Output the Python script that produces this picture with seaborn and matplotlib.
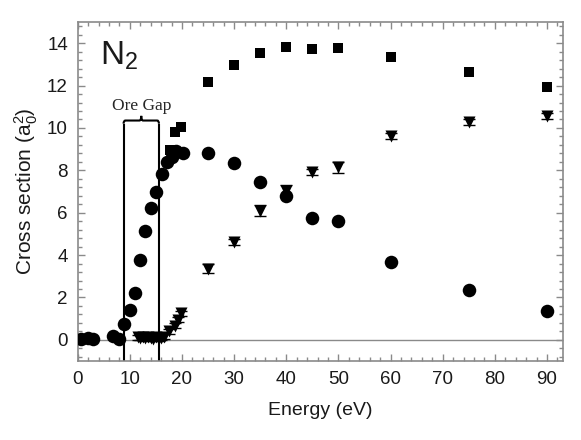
import numpy as np
import pandas as pd
import matplotlib
matplotlib.use("Agg")
import matplotlib.pyplot as plt
from matplotlib.path import Path
from matplotlib.patches import PathPatch
from matplotlib.ticker import MultipleLocator
import seaborn as sns

# === DONNÉES ===
e_circ = [0.7, 2.0, 2.9, 6.8, 7.9, 8.8, 10.0, 10.9, 11.9, 13.0, 14.0, 15.0, 16.1,
          17.1, 18.0, 18.9, 20.2, 25, 30, 35, 40, 45, 50, 60, 75, 90]
s_circ = [0.05, 0.08, 0.05, 0.16, 0.03, 0.74, 1.41, 2.22, 3.79, 5.12, 6.23, 6.96, 7.82,
          8.37, 8.62, 8.92, 8.8, 8.8, 8.33, 7.43, 6.81, 5.76, 5.63, 3.68, 2.35, 1.36]

e_tri = [11.5, 12.0, 12.5, 13.0, 13.5, 14.0, 14.5, 15.0, 15.5, 16.0, 16.5,
         17.6, 18.6, 19.2, 19.9, 25, 30, 35, 40, 45, 50, 60, 75, 90]
s_tri = [0.12, 0.1, 0.14, 0.08, 0.12, 0.1, 0.06, 0.12, 0.08, 0.1, 0.15,
         0.4, 0.66, 0.94, 1.26, 3.36, 4.62, 6.1, 7.04, 7.93, 8.14, 9.62, 10.28, 10.55]
err_tri = [0.12, 0.12, 0.12, 0.12, 0.12, 0.12, 0.12, 0.12, 0.12, 0.12, 0.12,
           0.12, 0.12, 0.12, 0.12, 0.22, 0.15, 0.25, 0.25, 0.15, 0.25, 0.15, 0.15, 0.15]

e_sq = [17.7, 18.7, 19.8, 25, 30, 35, 40, 45, 50, 60, 75, 90]
s_sq = [8.95, 9.8, 10.05, 12.15, 12.96, 13.54, 13.82, 13.71, 13.77, 13.33, 12.63, 11.91]

gap_lo, gap_hi = 8.8, 15.58

# === STYLE ===
sns.set_style("ticks")
plt.rcParams['font.family'] = ['Liberation Sans', 'DejaVu Sans']
plt.rcParams['mathtext.fontset'] = 'custom'
plt.rcParams['mathtext.rm'] = 'Liberation Sans'
plt.rcParams['mathtext.it'] = 'Liberation Sans'
grey = "#8a8a8a"

fig = plt.figure(figsize=(5.81, 4.40), dpi=100)
ax = fig.add_axes([0.1337, 0.1795, 0.8348, 0.7705])

ax.axhline(0, color=grey, lw=1.0, zorder=1)

# Ore gap
top = 10.35
ax.vlines([gap_lo, gap_hi], -1, top - 0.15, color="black", lw=1.5, zorder=2)
mid = (gap_lo + gap_hi) / 2
r = 0.35
verts = [(gap_lo, top - 0.15), (gap_lo, top), (gap_lo + r, top),
         (mid - r, top), (mid, top), (mid, top + 0.22),
         (mid, top), (mid + r, top),
         (gap_hi - r, top), (gap_hi, top), (gap_hi, top - 0.15)]
codes = [Path.MOVETO, Path.CURVE3, Path.CURVE3,
         Path.LINETO, Path.CURVE3, Path.CURVE3,
         Path.CURVE3, Path.CURVE3,
         Path.LINETO, Path.CURVE3, Path.CURVE3]
ax.add_patch(PathPatch(Path(verts, codes), fill=False, lw=1.5, color="black", zorder=2))
ax.text(mid, top + 0.3, "Ore Gap", ha="center", va="bottom",
        fontsize=12.5, family=["Liberation Serif", "DejaVu Serif"])

# error bars
ax.errorbar(e_tri, s_tri, yerr=err_tri, fmt="none", ecolor="black",
            elinewidth=1.0, capsize=4, capthick=1.0, zorder=3)

df_c = pd.DataFrame({"E": e_circ, "S": s_circ})
df_t = pd.DataFrame({"E": e_tri, "S": s_tri})
df_s = pd.DataFrame({"E": e_sq, "S": s_sq})
sns.scatterplot(data=df_s, x="E", y="S", marker="s", s=55, color="black",
                edgecolor="black", linewidth=0, ax=ax, zorder=4)
sns.scatterplot(data=df_t, x="E", y="S", marker="v", s=75, color="black",
                edgecolor="black", linewidth=0, ax=ax, zorder=4)
sns.scatterplot(data=df_c, x="E", y="S", marker="o", s=95, color="black",
                edgecolor="black", linewidth=0, ax=ax, zorder=5)

ax.text(7.9, 13.4, "N$_2$", fontsize=24, ha="center", va="center", color="#1a1a1a")

ax.set_xlim(0, 93)
ax.set_ylim(-1, 15)
ax.xaxis.set_major_locator(MultipleLocator(10))
ax.xaxis.set_minor_locator(MultipleLocator(2))
ax.yaxis.set_major_locator(MultipleLocator(2))
ax.yaxis.set_minor_locator(MultipleLocator(0.4))
ax.set_xticks(np.arange(0, 91, 10))
ax.set_yticks(np.arange(0, 15, 2))
ax.tick_params(which="both", direction="in", top=True, right=True,
               color=grey, labelsize=13.5, labelcolor="#1a1a1a")
ax.tick_params(which="major", length=5, width=1, pad=7)
ax.tick_params(which="minor", length=3, width=1)
for sp in ax.spines.values():
    sp.set_color(grey)
    sp.set_linewidth(1.2)

ax.set_xlabel("Energy (eV)", fontsize=14, labelpad=10, color="#1a1a1a")
ax.set_ylabel("Cross section (a$_0^2$)", fontsize=15, labelpad=5, color="#1a1a1a")

fig.savefig("out.png", dpi=100)
